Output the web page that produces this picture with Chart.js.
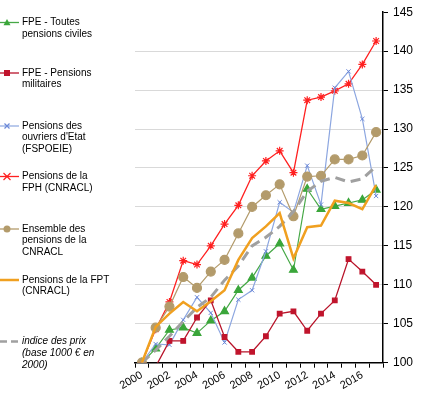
<!DOCTYPE html>
<html>
<head>
<meta charset="utf-8">
<script src="https://cdn.jsdelivr.net/npm/chart.js@4/dist/chart.umd.min.js"></script>
<style>
html,body{margin:0;padding:0;background:#fff;}
#wrap{width:433px;height:399px;}
</style>
</head>
<body>
<div id="wrap"><canvas id="c" width="433" height="399"></canvas></div>
<script>
const years = ['2000','2001','2002','2003','2004','2005','2006','2007','2008','2009','2010','2011','2012','2013','2014','2015','2016','2017'];
const fpeCiviles   = [100,101.8,104.2,104.5,103.8,105.4,106.6,109.3,110.9,113.7,115.3,111.9,122.3,119.7,120.1,120.5,120.9,122.2];
const fpeMilitaires= [100,99.5,102.8,102.8,105.8,108.0,103.3,101.4,101.4,103.4,106.3,106.6,104.1,106.3,108.0,113.3,111.7,110.0];
const ouvriersEtat = [100,102.4,102.3,105.5,108.4,106.4,102.6,108.1,109.3,114.3,120.6,119.3,125.3,120.3,135.3,137.4,131.3,121.4];
const fphCnracl    = [100,104.3,107.8,113.1,112.6,115.0,117.8,120.2,124.0,125.9,127.2,124.4,133.7,134.1,134.9,135.8,138.3,141.3];
const ensembleCnracl=[100,104.5,107.2,111.0,109.6,111.7,113.2,116.6,120.0,121.5,122.9,118.8,123.9,124.0,126.1,126.1,126.6,129.6];
const fptCnracl    = [100,104.6,106.3,107.8,106.6,107.9,109.3,113.2,116.0,117.5,119.2,113.4,117.4,117.6,120.8,120.5,119.7,122.8];
const indicePrix   = [100,101.6,103.4,105.3,107.1,108.4,110.6,112.4,115.0,116.1,117.5,119.4,122.0,123.3,123.8,123.2,123.6,125.2];
const yTicks = [100,105,110,115,120,125,130,135,140,145];

const legendItems = [
  {lines:['FPE - Toutes','pensions civiles'], y:22.5, color:'#46a846', width:1.3, marker:'triangle', mcolor:'#3aa63a', r:3.5},
  {lines:['FPE - Pensions','militaires'], y:73, color:'#b8142a', width:1.3, marker:'rect', mcolor:'#c0142c', r:3},
  {lines:['Pensions des',"ouvriers d'Etat",'(FSPOEIE)'], y:126, color:'#8ca6e0', width:1.2, marker:'crossRot', mcolor:'#6b88d8', r:2.5},
  {lines:['Pensions de la','FPH (CNRACL)'], y:176.5, color:'#ff2020', width:1.3, marker:'star', mcolor:'#ff2020', r:3.5},
  {lines:['Ensemble des','pensions de la','CNRACL'], y:229, color:'#b39b6b', width:1.3, marker:'circle', mcolor:'#b39b6b', r:3.5},
  {lines:['Pensions de la FPT','(CNRACL)'], y:280, color:'#f0a020', width:2.5, marker:null},
  {lines:['indice des prix','(base 1000 € en','2000)'], y:341.5, color:'#a0a0a0', width:2.5, marker:null, dash:[7,4], italic:true}
];

function drawMarker(ctx, style, x, y, r, color){
  ctx.save();
  ctx.fillStyle = color; ctx.strokeStyle = color; ctx.lineWidth = 1.2; ctx.setLineDash([]);
  ctx.beginPath();
  if (style === 'triangle'){
    ctx.moveTo(x, y - r); ctx.lineTo(x + r, y + r*0.8); ctx.lineTo(x - r, y + r*0.8); ctx.closePath(); ctx.fill();
  } else if (style === 'rect'){
    ctx.fillRect(x - r, y - r, 2*r, 2*r);
  } else if (style === 'crossRot'){
    ctx.moveTo(x-r,y-r); ctx.lineTo(x+r,y+r); ctx.moveTo(x+r,y-r); ctx.lineTo(x-r,y+r); ctx.stroke();
  } else if (style === 'star'){
    ctx.moveTo(x-r,y-r); ctx.lineTo(x+r,y+r); ctx.moveTo(x+r,y-r); ctx.lineTo(x-r,y+r);
    ctx.moveTo(x-r,y); ctx.lineTo(x+r,y); ctx.stroke();
  } else if (style === 'circle'){
    ctx.arc(x, y, r, 0, Math.PI*2); ctx.fill();
  }
  ctx.restore();
}

const legendPlugin = {
  id: 'sideLegend',
  afterDraw(chart){
    const ctx = chart.ctx;
    ctx.save();
    legendItems.forEach(it => {
      ctx.beginPath();
      ctx.strokeStyle = it.color; ctx.lineWidth = it.width;
      ctx.setLineDash(it.dash || []);
      ctx.moveTo(0, it.y); ctx.lineTo(19, it.y); ctx.stroke();
      ctx.setLineDash([]);
      if (it.marker) drawMarker(ctx, it.marker, 7, it.y, it.r, it.mcolor);
      ctx.fillStyle = '#000';
      ctx.font = (it.italic ? 'italic ' : '') + '10px "Liberation Sans", Arial, sans-serif';
      ctx.textBaseline = 'middle'; ctx.textAlign = 'left';
      it.lines.forEach((t, i) => ctx.fillText(t, 22, it.y + i*11.7));
    });
    ctx.restore();
  }
};

new Chart(document.getElementById('c'), {
  type: 'line',
  data: {
    labels: years,
    datasets: [
      {label:'Pensions de la FPT (CNRACL)', data:fptCnracl, borderColor:'#f0a020', borderWidth:2.5, pointRadius:0, tension:0},
      {label:'indice des prix', data:indicePrix, borderColor:'#a0a0a0', borderWidth:3, borderDash:[10,6], pointRadius:0},
      {label:'Ensemble des pensions de la CNRACL', data:ensembleCnracl, borderColor:'#b39b6b', borderWidth:1.2, pointStyle:'circle', pointRadius:4.5, pointBackgroundColor:'#b39b6b', pointBorderColor:'#b39b6b'},
      {label:'FPE - Pensions militaires', data:fpeMilitaires, borderColor:'#b8142a', borderWidth:1.3, pointStyle:'rect', pointRadius:3.2, pointBackgroundColor:'#c0142c', pointBorderColor:'#c0142c'},
      {label:"Pensions des ouvriers d'Etat (FSPOEIE)", data:ouvriersEtat, borderColor:'#8ca6e0', borderWidth:1.2, pointStyle:'crossRot', pointRadius:3, pointBorderColor:'#6b88d8', pointBorderWidth:1},
      {label:'FPE - Toutes pensions civiles', data:fpeCiviles, borderColor:'#46a846', borderWidth:1.2, pointStyle:'triangle', pointRadius:4.5, pointBackgroundColor:'#3aa63a', pointBorderColor:'#3aa63a'},
      {label:'Pensions de la FPH (CNRACL)', data:fphCnracl, borderColor:'#ff2020', borderWidth:1.3, pointStyle:'star', pointRadius:4, pointBorderColor:'#ff2020', pointBorderWidth:1.2}
    ]
  },
  options: {
    responsive: false,
    animation: false,
    devicePixelRatio: 1,
    layout: {padding: {left: 135, top: 12, right: 0, bottom: 0}},
    plugins: {legend: {display: false}, tooltip: {enabled: false}},
    elements: {line: {tension: 0}},
    scales: {
      x: {
        offset: true,
        grid: {offset: true, drawOnChartArea: false, drawTicks: true, tickLength: 5, color: '#000'},
        border: {display: true, color: '#000', width: 1.5},
        ticks: {
          autoSkip: false, maxRotation: 30, minRotation: 30, padding: 1,
          color: '#000', font: {family: '"Liberation Sans", Arial, sans-serif', size: 11},
          callback: function(v, i){ const y = years[i]; return (parseInt(y) % 2 === 0) ? y : ''; }
        },
        afterFit: s => { s.height = 36.3; }
      },
      y: {
        position: 'right',
        min: 100, max: 145,
        afterBuildTicks: s => { s.ticks = yTicks.map(v => ({value: v})); },
        grid: {
          color: ctx => (ctx.tick && (ctx.tick.value === 145 || ctx.tick.value === 100)) ? 'rgba(0,0,0,0)' : '#d9d9d9',
          tickColor: '#000', tickLength: 5, lineWidth: 1
        },
        border: {display: true, color: '#000', width: 1.5},
        ticks: {color: '#000', padding: 5, font: {family: '"Liberation Sans", Arial, sans-serif', size: 12}},
        afterFit: s => { s.width = 50; }
      }
    }
  },
  plugins: [legendPlugin]
});
</script>
</body>
</html>
